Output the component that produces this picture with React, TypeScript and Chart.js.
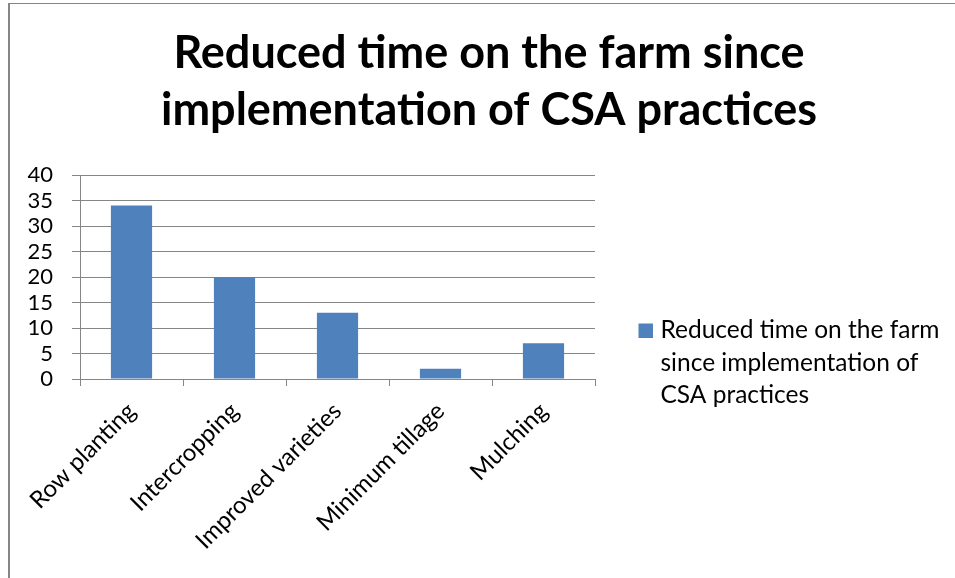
import React, { useEffect, useRef } from "react";
import { Chart, registerables } from "chart.js";

Chart.register(...registerables);

const TITLE_LINES = ["Reduced time on the farm since", "implementation of CSA practices"];
const CATEGORIES = ["Row planting", "Intercropping", "Improved varieties", "Minimum tillage", "Mulching"];
const SERIES_LABEL = "Reduced time on the farm since implementation of CSA practices";
const SERIES_VALUES = [34, 20, 13, 2, 7];
const Y_MIN = 0;
const Y_MAX = 40;
const Y_STEP = 5;

const BAR_COLOR = "#4F81BD";
const GRID_COLOR = "#868686";
const FONT = "Lato";

const sideLegend = {
  id: "sideLegend",
  afterDraw(chart: any) {
    const ctx = chart.ctx as CanvasRenderingContext2D;
    const ds = chart.data.datasets[0];
    const area = chart.chartArea;
    ctx.save();
    ctx.font = `24.5px ${FONT}`;
    const words = String(ds.label).split(" ");
    const maxW = 290;
    const lines: string[] = [];
    let cur = "";
    for (const w of words) {
      const t = cur ? cur + " " + w : w;
      if (cur && ctx.measureText(t).width > maxW) {
        lines.push(cur);
        cur = w;
      } else cur = t;
    }
    if (cur) lines.push(cur);
    const boxX = area.right + 43.5;
    const boxY = 323.5;
    ctx.fillStyle = ds.backgroundColor;
    ctx.fillRect(boxX, boxY, 14.5, 14.5);
    ctx.fillStyle = "#000";
    ctx.textBaseline = "alphabetic";
    ctx.textAlign = "left";
    lines.forEach((l, i) => ctx.fillText(l, boxX + 22, 338.3 + i * 32.2));
    ctx.restore();
  },
};

export default function App() {
  const ref = useRef<HTMLCanvasElement | null>(null);
  useEffect(() => {
    if (!ref.current) return;
    const chart = new Chart(ref.current, {
      type: "bar",
      data: {
        labels: CATEGORIES,
        datasets: [
          {
            label: SERIES_LABEL,
            data: SERIES_VALUES,
            backgroundColor: BAR_COLOR,
            barPercentage: 0.4,
            categoryPercentage: 1,
            yAxisID: "y",
          },
        ],
      },
      options: {
        animation: false,
        responsive: false,
        devicePixelRatio: 1,
        layout: { padding: { left: 23, right: 0, top: 0, bottom: 0 } },
        plugins: {
          legend: { display: false },
          tooltip: { enabled: false },
          title: {
            display: true,
            text: TITLE_LINES,
            color: "#000",
            font: { family: FONT, size: 45, weight: "bold", lineHeight: 1.26 },
            padding: { top: 25.6, bottom: 36 },
          },
        },
        scales: {
          x: {
            grid: { drawOnChartArea: false, color: GRID_COLOR, tickLength: 7, offset: true },
            border: { color: GRID_COLOR },
            ticks: {
              color: "#000",
              font: { family: FONT, size: 24 },
              minRotation: 45,
              maxRotation: 45,
              padding: 11,
              autoSkip: false,
            },
            afterFit: (s: any) => {
              s.height = 199;
            },
          },
          y: {
            min: Y_MIN,
            max: Y_MAX,
            ticks: {
              stepSize: Y_STEP,
              autoSkip: false,
              color: "#000",
              font: { family: FONT, size: 22 },
              padding: 19,
            },
            grid: { color: GRID_COLOR, tickLength: 8 },
            border: { color: GRID_COLOR },
            afterFit: (s: any) => {
              s.width = 57;
            },
          },
          legendSpace: {
            type: "linear",
            position: "right",
            display: true,
            grid: { display: false, drawTicks: false },
            border: { display: false },
            ticks: { display: false },
            afterFit: (s: any) => {
              s.width = 360;
            },
          },
        },
      },
      plugins: [sideLegend],
    } as any);
    return () => chart.destroy();
  }, []);

  return (
    <div
      style={{
        position: "fixed",
        left: 0,
        top: 0,
        width: 955,
        height: 578,
        overflow: "hidden",
        background: "#fff",
      }}
    >
      <div
        style={{
          position: "absolute",
          left: 8,
          top: 3,
          width: 1000,
          height: 700,
          borderLeft: `2px solid ${GRID_COLOR}`,
          borderTop: `1px solid ${GRID_COLOR}`,
          boxSizing: "border-box",
        }}
      />
      <canvas
        ref={ref}
        width={955}
        height={578}
        style={{ position: "absolute", left: 0, top: 0, width: 955, height: 578 }}
      />
    </div>
  );
}
